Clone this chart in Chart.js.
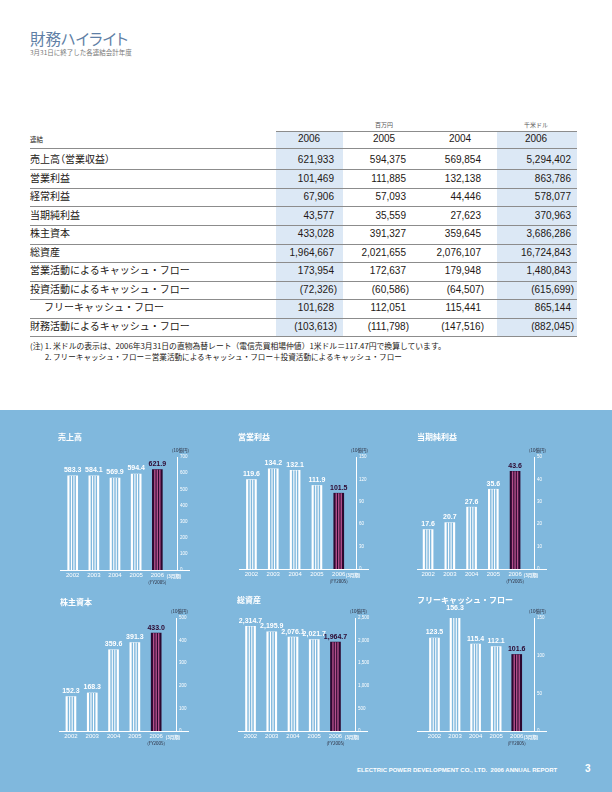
<!DOCTYPE html>
<html>
<head>
<meta charset="utf-8">
<script src="https://cdn.jsdelivr.net/npm/chart.js@4.4.1/dist/chart.umd.min.js"></script>
<style>
body { margin: 0; width: 612px; height: 792px; position: relative; overflow: hidden; background: #fff;
       font-family: "Noto Sans CJK JP", "Liberation Sans", sans-serif; color: #231815; }
.t { position: absolute; white-space: nowrap; line-height: 1; }
#blue { position: absolute; left: 0; top: 410px; width: 612px; height: 382px; background: #80b8dd; }
canvas { position: absolute; }
.ctitle { position: absolute; color: #fff; font-weight: bold; font-size: 8px; white-space: nowrap; line-height: 1; }
</style>
</head>
<body>
<div class="t" style="left:30px;top:31px;font-size:15.5px;color:#5f7fa6;font-feature-settings:'palt';">財務ハイライト</div>
<div class="t" style="left:30px;top:49px;font-size:6.5px;color:#777;">3月31日に終了した各連結会計年度</div>
<div id="table"></div>
<div id="blue"></div>
<div class="t" style="left:357px;top:767px;font-size:6px;font-weight:bold;color:#fff;font-family:'Liberation Sans';">ELECTRIC POWER DEVELOPMENT CO., LTD.&nbsp; 2006 ANNUAL REPORT</div>
<div class="t" style="left:585px;top:764px;font-size:10px;font-weight:bold;color:#fff;font-family:'Liberation Sans';">3</div>
<script>
// chart data (billions of yen)
const years = [2002, 2003, 2004, 2005, 2006];
const salesValues = [583.3, 584.1, 569.9, 594.4, 621.9];
const operatingIncome = [119.6, 134.2, 132.1, 111.9, 101.5];
const netIncome = [17.6, 20.7, 27.6, 35.6, 43.6];
const shareholdersEquity = [152.3, 168.3, 359.6, 391.3, 433.0];
const totalAssets = [2314.7, 2195.9, 2076.1, 2021.7, 1964.7];
const freeCashFlow = [123.5, 156.3, 115.4, 112.1, 101.6];

// table data
const tableHeaders = ['2006', '2005', '2004', '2006'];
const rowLabels = ['売上高（営業収益）', '営業利益', '経常利益', '当期純利益', '株主資本', '総資産',
  '営業活動によるキャッシュ・フロー', '投資活動によるキャッシュ・フロー', 'フリーキャッシュ・フロー', '財務活動によるキャッシュ・フロー'];
const yen2006 = ['621,933', '101,469', '67,906', '43,577', '433,028', '1,964,667', '173,954', '(72,326)', '101,628', '(103,613)'];
const yen2005 = ['594,375', '111,885', '57,093', '35,559', '391,327', '2,021,655', '172,637', '(60,586)', '112,051', '(111,798)'];
const yen2004 = ['569,854', '132,138', '44,446', '27,623', '359,645', '2,076,107', '179,948', '(64,507)', '115,441', '(147,516)'];
const usd2006 = ['5,294,402', '863,786', '578,077', '370,963', '3,686,286', '16,724,843', '1,480,843', '(615,699)', '865,144', '(882,045)'];
const notes = ['(注) 1. 米ドルの表示は、2006年3月31日の直物為替レート（電信売買相場仲値）1米ドル＝117.47円で換算しています。',
  '2. フリーキャッシュ・フロー＝営業活動によるキャッシュ・フロー＋投資活動によるキャッシュ・フロー'];

// ---- table ----
const tbl = document.getElementById('table');
function put(html, css) {
  const d = document.createElement('div');
  d.className = 't';
  d.style.cssText = css;
  d.innerHTML = html;
  tbl.appendChild(d);
  return d;
}
const colRight = [334, 406, 481, 571];
const colCenter = [309, 384, 460, 536];
const rowY = 160, rowH = 18.55;
// shaded columns
put('', 'left:276px;top:131px;width:67px;height:206px;background:#dce8f5;');
put('', 'left:497px;top:131px;width:80px;height:206px;background:#dce8f5;');
put('', 'left:276px;top:131px;width:301px;height:0;border-top:1px solid #8c8c8c;');
put('百万円', 'left:' + (colCenter[1] - 9) + 'px;top:122px;font-size:6px;color:#555;');
put('千米ドル', 'left:' + (colCenter[3] - 12) + 'px;top:122px;font-size:6px;color:#555;');
put('連結', 'left:30px;top:136px;font-size:6.5px;');
tableHeaders.forEach((h, i) => {
  put(h, 'left:' + (colCenter[i] - 20) + 'px;width:40px;text-align:center;top:134px;font-size:10px;font-family:Liberation Sans;');
});
put('', 'left:30px;top:148px;width:547px;height:0;border-top:1px solid #8c8c8c;');
const cols = [yen2006, yen2005, yen2004, usd2006];
rowLabels.forEach((lab, r) => {
  const y = rowY + r * rowH;
  const indent = r === 8 ? 14 : 0;
  const feat = r === 0 ? 'font-feature-settings:"palt";' : '';
  put(lab, 'left:' + (30 + indent) + 'px;top:' + (y - 6) + 'px;font-size:10px;' + feat);
  cols.forEach((col, c) => {
    const v = col[r];
    const shift = v.endsWith(')') ? 3 : 0;
    put(v, 'right:' + (612 - colRight[c] - shift) + 'px;top:' + (y - 5) + 'px;font-size:10px;font-family:Liberation Sans;');
  });
  put('', 'left:30px;top:' + Math.round(y + 9.3) + 'px;width:547px;height:0;border-top:1px solid #8c8c8c;');
});
put(notes[0], 'left:30px;top:342px;font-size:7.8px;');
put(notes[1], 'left:45px;top:353px;font-size:7.6px;');

// ---- charts ----
const BLUE = '#80b8dd';
const PURPLE = '#2c0830';
const PINK = '#b4508c';

const barDecor = {
  id: 'barDecor',
  afterDatasetsDraw(chart) {
    const ctx = chart.ctx;
    const meta = chart.getDatasetMeta(0);
    const vals = chart.data.datasets[0].data.map(p => p.y);
    const last = vals.length - 1;
    const area = chart.chartArea;
    ctx.save();
    meta.data.forEach((bar, i) => {
      const left = bar.x - bar.width / 2;
      ctx.fillStyle = i === last ? PINK : BLUE;
      for (let k = 1; k < 4; k++) {
        ctx.fillRect(left + bar.width * k / 4 - 0.7, bar.y, 1.4, bar.base - bar.y);
      }
      ctx.fillStyle = i === last ? PURPLE : '#fff';
      ctx.font = 'bold 7px "Liberation Sans"';
      ctx.textAlign = 'center';
      ctx.textBaseline = 'bottom';
      ctx.fillText(vals[i].toLocaleString('en-US', {minimumFractionDigits: 1, maximumFractionDigits: 1}), bar.x, bar.y - 2);
    });
    // baseline runs a little past the value axis
    ctx.strokeStyle = '#fff';
    ctx.lineWidth = 1;
    ctx.beginPath();
    ctx.moveTo(area.right, Math.round(area.bottom) + 0.5);
    ctx.lineTo(area.right + 13, Math.round(area.bottom) + 0.5);
    ctx.stroke();
    // unit and period notes
    ctx.font = '4.5px "Noto Sans CJK JP"';
    ctx.fillStyle = '#2a2a3a';
    ctx.textAlign = 'left';
    ctx.textBaseline = 'middle';
    ctx.fillText('(10億円)', area.right - 5, area.top - 7);
    ctx.textAlign = 'center';
    ctx.fillText('(FY2005)', meta.data[last].x, area.bottom + 12);
    ctx.fillStyle = '#fff';
    ctx.font = 'bold 4.5px "Noto Sans CJK JP"';
    ctx.fillText('(3月期)', area.right - 3, area.bottom + 6);
    ctx.restore();
  }
};

function makeChart(spec) {
  const padL = 6, padT = 17, yW = 18, xH = 12, padR = 14, padB = 12;
  const w = spec.axisX - spec.left + padL + yW + padR;
  const h = spec.base - spec.top + padT + xH + padB;
  const cv = document.createElement('canvas');
  cv.width = w; cv.height = h;
  cv.style.left = (spec.left - padL) + 'px';
  cv.style.top = (spec.top - padT) + 'px';
  cv.style.width = w + 'px';
  cv.style.height = h + 'px';
  document.body.appendChild(cv);

  const t = document.createElement('div');
  t.className = 'ctitle';
  t.style.left = spec.titleX + 'px';
  t.style.top = (spec.titleY - 4) + 'px';
  t.textContent = spec.title;
  document.body.appendChild(t);

  new Chart(cv, {
    type: 'bar',
    data: {
      datasets: [{
        data: years.map((y, i) => ({x: y, y: spec.values[i]})),
        backgroundColor: years.map((y, i) => i === years.length - 1 ? PURPLE : '#fff'),
        borderWidth: 0,
        barThickness: 10
      }]
    },
    options: {
      responsive: false,
      animation: false,
      devicePixelRatio: 1,
      layout: { padding: { left: padL, top: padT, right: padR, bottom: padB } },
      plugins: { legend: { display: false }, tooltip: { enabled: false } },
      scales: {
        x: {
          type: 'linear', min: spec.xmin, max: spec.xmax, offset: false,
          grid: { display: false, drawTicks: false, offset: false },
          border: { color: '#fff', width: 1 },
          ticks: { stepSize: 1, includeBounds: false, autoSkip: false, maxRotation: 0, padding: 2,
                   color: '#fff', font: { size: 6, family: 'Liberation Sans' }, callback: v => String(v) },
          afterFit: s => { s.height = xH; }
        },
        y: {
          position: 'right', min: 0, max: spec.max,
          grid: { display: false, drawTicks: false },
          border: { color: '#fff', width: 1 },
          ticks: { stepSize: spec.step, padding: 3, color: '#fff', font: { size: 4.5, family: 'Liberation Sans' },
                   callback: v => v.toLocaleString('en-US') },
          afterFit: s => { s.width = yW; }
        }
      }
    },
    plugins: [barDecor]
  });
}

makeChart({ title: '売上高', values: salesValues, max: 700, step: 100,
  left: 60, axisX: 177, top: 457, base: 570, xmin: 2001.4, xmax: 2006.93, titleX: 58, titleY: 437 });
makeChart({ title: '営業利益', values: operatingIncome, max: 150, step: 30,
  left: 239, axisX: 356, top: 457, base: 569, xmin: 2001.43, xmax: 2006.79, titleX: 238, titleY: 437 });
makeChart({ title: '当期純利益', values: netIncome, max: 50, step: 10,
  left: 417, axisX: 534, top: 457, base: 569, xmin: 2001.49, xmax: 2006.87, titleX: 417, titleY: 437 });
makeChart({ title: '株主資本', values: shareholdersEquity, max: 500, step: 100,
  left: 59, axisX: 176, top: 618, base: 731, xmin: 2001.44, xmax: 2006.93, titleX: 60, titleY: 602 });
makeChart({ title: '総資産', values: totalAssets, max: 2500, step: 500,
  left: 238, axisX: 355, top: 618, base: 731, xmin: 2001.41, xmax: 2006.92, titleX: 237, titleY: 600 });
makeChart({ title: 'フリーキャッシュ・フロー', values: freeCashFlow, max: 150, step: 50,
  left: 417, axisX: 534, top: 618, base: 731, xmin: 2001.15, xmax: 2006.84, titleX: 417, titleY: 600 });
</script>
</body>
</html>
